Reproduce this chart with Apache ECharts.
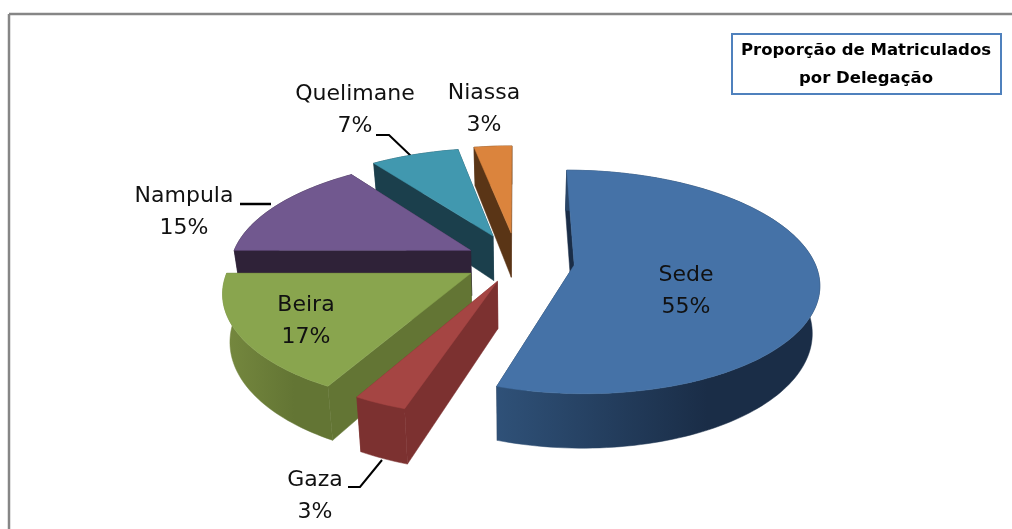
<!DOCTYPE html>
<html>
<head>
<meta charset="utf-8">
<script src="https://cdn.jsdelivr.net/npm/echarts@6/dist/echarts.min.js"></script>
<style>
	html,body{margin:0;padding:0;background:#fff;}
	#chart{width:1012px;height:529px;}
</style>
</head>
<body>
<div id="chart"></div>
<script>
var names = ['Sede','Gaza','Beira','Nampula','Quelimane','Niassa'];
var values = [55,3,17,15,7,3];
var titleLines = ['Proporção de Matriculados','por Delegação'];

// fatia destacada, cores e posição dos rótulos
var explode = [0.24,0.2,0.22,0.22,0.26,0.27];
var topColors = ['#4572a7','#a54543','#89a54e','#71588f','#4198af','#db843d'];
var wallColors = ['#1a2d47','#7c3130','#637534','#2f2238','#1b3f4c','#5a3516'];
var arcLeftColors = ['#2f5178','#7c3130','#76893f','#2f2238','#1b3f4c','#5a3516'];
var labelPos = [[686,275],[315,480],[306,305],[184,196],[355,94],[484,93]];

var cx = 517, cy = 261, rx = 240, ry = 108, k = 0.15, depth = 46, shrink = 0.025;
var total = values.reduce(function(a,b){return a+b;},0);

// plano do topo -> ecrã (perspectiva simples)
function project(X,Y,low){
	var w = 1-k*Y;
	var x = cx+rx*X/w, y = cy+ry*Y/w;
	if(low){
		x = cx+(x-cx)*(1-shrink);
		y = y+depth/w;
	}
	return [x,y];
}

function sliceGroup(i){
	var start = 0;
	for(var j=0;j<i;j++) start += values[j];
	var a0 = start/total*Math.PI*2;
	var a1 = (start+values[i])/total*Math.PI*2;
	var mid = (a0+a1)/2;
	var ox = explode[i]*Math.sin(mid), oy = -explode[i]*Math.cos(mid);
	var steps = Math.max(8,Math.round((a1-a0)*40));
	var upper = [], lower = [];
	for(var s=0;s<=steps;s++){
		var a = a0+(a1-a0)*s/steps;
		var X = ox+Math.sin(a), Y = oy-Math.cos(a);
		upper.push(project(X,Y,false));
		lower.push(project(X,Y,true));
	}
	var apexU = project(ox,oy,false), apexL = project(ox,oy,true);
	var arcFill = new echarts.graphic.LinearGradient(0,0,1,0,[
		{offset:0,color:arcLeftColors[i]},
		{offset:0.65,color:wallColors[i]},
		{offset:1,color:wallColors[i]}
	]);
	function poly(points,fill){
		return {type:'polygon',shape:{points:points},style:{fill:fill,stroke:fill,lineWidth:0.5}};
	}
	return {
		type:'group',
		children:[
			poly([apexU,upper[steps],lower[steps],apexL],wallColors[i]),
			poly([apexU,upper[0],lower[0],apexL],wallColors[i]),
			poly(upper.concat(lower.slice().reverse()),arcFill),
			poly([apexU].concat(upper),topColors[i])
		]
	};
}

var labelFont = '"DejaVu Sans"';
var graphics = [
	{type:'line',shape:{x1:9,y1:14,x2:1012,y2:14},style:{stroke:'#868686',lineWidth:2.5}},
	{type:'line',shape:{x1:9,y1:14,x2:9,y2:529},style:{stroke:'#868686',lineWidth:2.5}},
	{type:'rect',shape:{x:732,y:34,width:269,height:60},style:{fill:'#fff',stroke:'#4f81bd',lineWidth:2}},
	{type:'text',x:866,y:51,style:{text:titleLines[0],fill:'#000',font:'bold 16.5px '+labelFont,textAlign:'center',textVerticalAlign:'middle'}},
	{type:'text',x:866,y:79,style:{text:titleLines[1],fill:'#000',font:'bold 16.5px '+labelFont,textAlign:'center',textVerticalAlign:'middle'}},
	{type:'polyline',shape:{points:[[240,204],[271,204]]},style:{stroke:'#000',lineWidth:2.5,fill:null}},
	{type:'polyline',shape:{points:[[376,135],[389,135],[411,156]]},style:{stroke:'#000',lineWidth:2,fill:null}},
	{type:'polyline',shape:{points:[[348,487],[360,487],[382,460]]},style:{stroke:'#000',lineWidth:2,fill:null}}
];
names.forEach(function(name,i){
	graphics.push({type:'text',x:labelPos[i][0],y:labelPos[i][1],z:10,style:{text:name,fill:'#111',font:'22px '+labelFont,textAlign:'center',textVerticalAlign:'middle'}});
	graphics.push({type:'text',x:labelPos[i][0],y:labelPos[i][1]+32,z:10,style:{text:Math.round(values[i]/total*100)+'%',fill:'#111',font:'22px '+labelFont,textAlign:'center',textVerticalAlign:'middle'}});
});

var chart = echarts.init(document.getElementById('chart'),null,{renderer:'canvas'});
chart.setOption({
	animation:false,
	backgroundColor:'#fff',
	graphic:{elements:graphics},
	series:[{
		type:'custom',
		coordinateSystem:'none',
		silent:true,
		// ordem de pintura: de trás para a frente
		data:values.map(function(v,i){return [i,v];}).reverse(),
		renderItem:function(params,api){
			return sliceGroup(api.value(0));
		}
	}]
});
</script>
</body>
</html>
